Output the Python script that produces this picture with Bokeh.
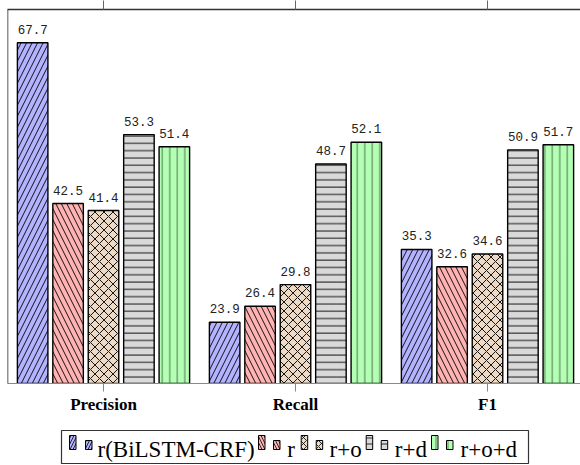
import numpy as np
from bokeh.plotting import figure
from bokeh.models import Range1d, FixedTicker, ColumnDataSource, LabelSet, Span, LinearAxis
from bokeh.transform import dodge
from bokeh.layouts import column
from bokeh.core.properties import value
from bokeh.embed import file_html
from bokeh.resources import INLINE

# ---- data ----
categories = ["Precision", "Recall", "F1"]
series_names = ["r(BiLSTM-CRF)", "r", "r+o", "r+d", "r+o+d"]
vals_bilstm = [67.7, 23.9, 35.3]
vals_r = [42.5, 26.4, 32.6]
vals_ro = [41.4, 29.8, 34.6]
vals_rd = [53.3, 48.7, 50.9]
vals_rod = [51.4, 52.1, 51.7]
series_values = [vals_bilstm, vals_r, vals_ro, vals_rd, vals_rod]

# ---- style ----
fills = ["#b3b3ff", "#ffb3b3", "#ecd9c6", "#d9d9d9", "#b3ffb3"]
hatches = ["/", "\\", "x", "-", "|"]
hatch_scales = [11, 11, 9, 7.3, 7.5]
hatch_alphas = [1.0, 1.0, 1.0, 1.0, 0.6]
step = 0.1845
bar_w = 0.159
y_lo, y_hi = 14.3, 72.9
x_lo, x_hi = -0.5, 2.4844

p = figure(width=580, height=415, frame_width=573, frame_height=374,
           x_range=Range1d(x_lo, x_hi), y_range=Range1d(y_lo, y_hi),
           output_backend="svg", toolbar_location=None,
           min_border_top=0, min_border_left=7, min_border_right=0,
           min_border_bottom=32)
p.outline_line_color = None
p.grid.visible = False
p.yaxis.visible = False

xs = list(range(len(categories)))
for i, (name, vals) in enumerate(zip(series_names, series_values)):
    src = ColumnDataSource(dict(g=xs, v=vals, lab=[f"{v:.1f}" for v in vals]))
    off = (i - 2) * step
    p.vbar(x=dodge("g", off, range=p.x_range), top="v", bottom=0, width=bar_w,
           source=src, fill_color=fills[i], line_color="black", line_width=1.4,
           hatch_pattern=hatches[i], hatch_color="black", hatch_weight=0.9,
           hatch_scale=hatch_scales[i], hatch_alpha=hatch_alphas[i])
    labels = LabelSet(x=dodge("g", off, range=p.x_range), y="v", text="lab",
                      source=src, text_align="center", text_baseline="alphabetic",
                      y_offset=9, text_font=value("Liberation Mono"),
                      text_font_size="12.5px", text_color="#222222")
    p.add_layout(labels)

ax = p.xaxis[0]
ax.ticker = FixedTicker(ticks=xs)
ax.major_label_overrides = {i: c for i, c in enumerate(categories)}
ax.major_label_text_font = "Liberation Serif"
ax.major_label_text_font_style = "bold"
ax.major_label_text_font_size = "17px"
ax.major_label_text_color = "black"
ax.major_label_standoff = 3
ax.major_tick_in = 0
ax.major_tick_out = 8
ax.major_tick_line_color = "#888888"
ax.minor_tick_line_color = None
ax.axis_line_color = "#888888"
ax.axis_line_width = 1.2

top_ax = LinearAxis(ticker=FixedTicker(ticks=xs), major_label_text_font_size="0px",
                    major_label_standoff=0, major_tick_in=0, major_tick_out=9,
                    major_tick_line_color="#666666", minor_tick_line_color=None,
                    axis_line_color="#333333", axis_line_width=1.5)
top_ax.major_label_overrides = {i: "" for i in xs}
p.add_layout(top_ax, "above")

p.add_layout(Span(location=x_lo, dimension="height", line_color="#222222", line_width=1.5))

# ---- legend (drawn below; x in page pixels) ----
leg_h = 50
lg = figure(width=580, height=leg_h, frame_width=573, frame_height=leg_h,
            x_range=Range1d(7, 580), y_range=Range1d(leg_h, 0),
            output_backend="svg", toolbar_location=None,
            x_axis_type=None, y_axis_type=None, min_border=0, min_border_left=7)
lg.outline_line_color = None
lg.grid.visible = False

box_left, box_right, box_top, box_bottom = 61, 528, 14, 47
lg.quad(left=[box_left], right=[box_right], top=[box_top], bottom=[box_bottom],
        fill_color=None, line_color="#333333", line_width=1.2)
icon1_x = [69, 258, 300.7, 365.7, 431]
icon2_x = [85, 273, 315.7, 380.7, 446]
text_x = [97, 286.7, 329, 394.3, 460]
icon_w = 6.5
for i in range(len(series_names)):
    lg.quad(left=[icon1_x[i]], right=[icon1_x[i] + icon_w], top=[19], bottom=[33],
            fill_color=fills[i], line_color="black", line_width=1,
            hatch_pattern=hatches[i], hatch_color="black", hatch_weight=0.8,
            hatch_scale=6, hatch_alpha=hatch_alphas[i])
    lg.quad(left=[icon2_x[i]], right=[icon2_x[i] + icon_w], top=[24], bottom=[33],
            fill_color=fills[i], line_color="black", line_width=1,
            hatch_pattern=hatches[i], hatch_color="black", hatch_weight=0.8,
            hatch_scale=6, hatch_alpha=hatch_alphas[i])
lg.text(x=text_x, y=[32.7] * 5, text=series_names, text_font=value("Liberation Serif"),
        text_font_size="23px", text_baseline="alphabetic", text_align="left",
        text_color="black")

layout = column(p, lg, spacing=0)
open("out.html", "w").write(file_html(layout, INLINE))
